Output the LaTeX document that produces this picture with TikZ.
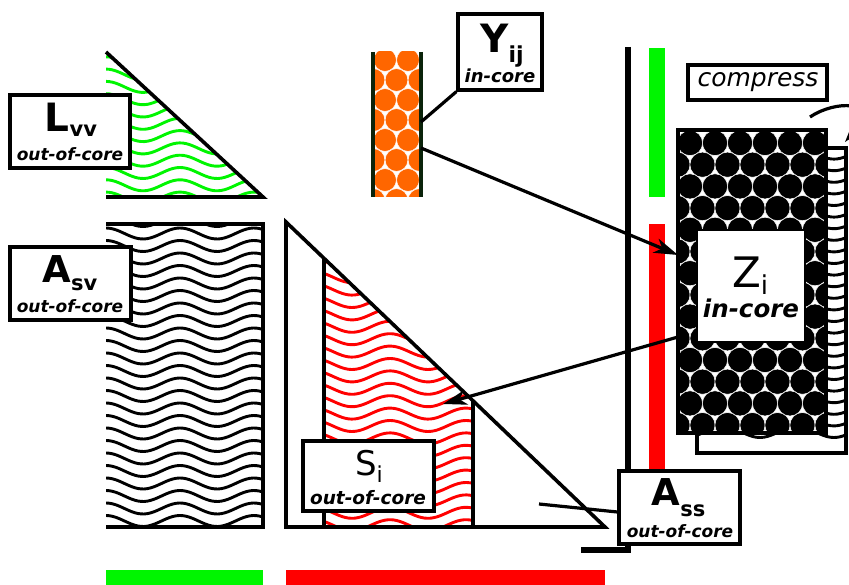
\documentclass[tikz,border=0pt]{standalone}
\usepackage{fontspec}
\setmainfont{DejaVu Sans}
\usetikzlibrary{arrows.meta}
\newcommand\myfs[1]{\fontsize{#1pt}{#1pt}\selectfont}
\definecolor{mygreen}{RGB}{0,245,0}
\definecolor{myred}{RGB}{255,0,0}
\definecolor{myorange}{RGB}{255,102,0}
\definecolor{colborder}{RGB}{10,35,10}
\begin{document}
\begin{tikzpicture}[x=1pt,y=-1pt, line join=miter,
  edge/.style={line width=3.6pt},
  lbox/.style={draw, line width=3.2pt, fill=white, inner sep=0pt},
  txt/.style={inner sep=0pt, anchor=base},
  wave/.style={line width=2.9pt},
  conn/.style={line width=3.2pt},
  arr/.style={conn, -{Stealth[length=24pt,width=15pt,inset=7pt]}},
]
\useasboundingbox (0,0) rectangle (849,585);

% bars and vertical line
\fill[mygreen] (106,570) rectangle (263,585);
\fill[myred] (286,570) rectangle (605,585);
\fill[mygreen] (649,48) rectangle (665,197);
\fill[myred] (649,224) rectangle (665,527);
\draw[line width=5.5pt] (628,47) -- (628,550) -- (581,550);

% L_vv triangle
\begin{scope}
\clip (106,52) -- (263,197) -- (106,197) -- cycle;
\foreach \k in {0,...,12}
  \draw[wave, mygreen] plot[domain=106:263, samples=50] (\x, {50+\k*12.3 + 5.5*cos(4.865*(\x-143))});
\end{scope}
\draw[edge] (106,52) -- (263,197) -- (106,197);

% A_sv rectangle
\begin{scope}
\clip (106,224) rectangle (263,527);
\foreach \k in {0,...,25}
  \draw[wave] plot[domain=106:263, samples=50] (\x, {221+\k*12.5 + 5.5*cos(4.865*(\x-143))});
\end{scope}
\draw[edge] (106,224) -- (263,224) -- (263,527) -- (106,527);

% S_i region inside A_ss
\begin{scope}
\clip (324,258.3) -- (473,400.8) -- (473,527) -- (324,527) -- cycle;
\foreach \k in {0,...,23}
  \draw[wave, myred] plot[domain=324:473, samples=50] (\x, {240+\k*12.4 + 5.5*cos(4.737*(\x-352))});
\end{scope}
\draw[edge] (324,258.3) -- (324,527);
\draw[edge] (473,400.8) -- (473,527);
% A_ss triangle
\draw[edge] (286,222) -- (605,527) -- (286,527) -- cycle;

% Y_ij column
\begin{scope}
\clip (373,52) rectangle (421,197);
\fill[white] (373,52) rectangle (421,197);
\foreach \r in {0,...,7}
  \foreach \c in {-1,...,2}
    \filldraw[fill=myorange, draw=white, line width=0.5pt]
      ({385+\c*23-mod(\r,2)*11.5}, {60+\r*20}) circle[radius=11.4pt];
\end{scope}
\draw[colborder, line width=4pt] (373,52) -- (373,197) (421,52) -- (421,197);

% back wavy stack behind Z
\fill[white] (697,148) rectangle (846,453);
\begin{scope}
\clip (697,148) rectangle (846,453);
\foreach \k in {0,...,25}
  \draw[wave] plot[domain=697:846, samples=50] (\x, {142+\k*11.6 + 5.5*cos(4.865*(\x-760))});
\end{scope}
\draw[edge] (697,148) rectangle (846,453);

% Z block
\begin{scope}
\clip (678,130) rectangle (826,433);
\fill[white] (678,130) rectangle (826,433);
\foreach \r in {0,...,14}
  \foreach \c in {-1,...,6}
    \filldraw[fill=black, draw=white, line width=0.5pt]
      ({690+\c*25-mod(\r,2)*12.5}, {143+\r*21.7}) circle[radius=12.6pt];
\end{scope}
\draw[edge] (678,130) rectangle (826,433);

% connectors
\node[lbox, minimum width=84pt, minimum height=76pt] (yij) at (500,52) {};
\coordinate (ytop) at (421,122);
\draw[conn] (yij.south west) -- (ytop);
\coordinate (yout) at (421,148);
\coordinate (zin) at (678,255);
\draw[arr] (yout) -- (zin);
\coordinate (zout) at (678,337);
\coordinate (sin) at (443,404);
\draw[arr] (zout) -- (sin);

% labels
\node[lbox, minimum width=120pt, minimum height=73pt] (lvv) at (70,131.5) {};
\node[txt] (lvvA) at (71,132) {\bfseries\myfs{39}L\raisebox{-5pt}{\myfs{21}vv}};
\node[txt] (lvvB) at (70,161) {\bfseries\itshape\myfs{17}out-of-core};

\node[lbox, minimum width=121pt, minimum height=73pt] (asv) at (70.5,283.5) {};
\node[txt] (asvA) at (70,283) {\bfseries\myfs{37}A\raisebox{-8pt}{\myfs{21}sv}};
\node[txt] (asvB) at (70,313) {\bfseries\itshape\myfs{17}out-of-core};

\node[txt] (yijA) at (502,53) {\bfseries\myfs{39}Y\raisebox{-10pt}{\myfs{22}ij}};
\node[txt] (yijB) at (500,83) {\bfseries\itshape\myfs{18}in-core};

\node[draw, line width=1.5pt, fill=white, inner sep=0pt, minimum width=108pt, minimum height=112pt] (zi) at (751,286) {};
\node[txt] (ziA) at (750,288) {\myfs{42}Z\raisebox{-7pt}{\myfs{26}i}};
\node[txt] (ziB) at (751,318) {\bfseries\itshape\myfs{24.5}in-core};

\node[lbox, minimum width=131pt, minimum height=70pt] (si) at (368.5,476) {};
\node[txt] (siA) at (369,475) {\myfs{34}S\raisebox{-7pt}{\myfs{22}i}};
\node[txt] (siB) at (368,504) {\bfseries\itshape\myfs{18.5}out-of-core};

\coordinate (assin) at (539,504);
\node[lbox, minimum width=121pt, minimum height=73pt] (ass) at (679.5,507.5) {};
\draw[conn] ([yshift=-4.5pt]ass.west) -- (assin);
\node[txt] (assA) at (678.5,505) {\bfseries\myfs{37}A\raisebox{-11pt}{\myfs{21}ss}};
\node[txt] (assB) at (680,537) {\bfseries\itshape\myfs{17}out-of-core};

\node[lbox, minimum width=139pt, minimum height=35pt] (comp) at (757.5,82.5) {};
\node[txt] (compT) at (758,87) {\itshape\myfs{25}compress};
\coordinate (cstart) at (810,117);
\coordinate (cend) at (845,142);
\draw[conn, -{Stealth[length=22pt,width=14pt,inset=6pt]}] (cstart) .. controls (835,100) and (880,100) .. (cend);
\end{tikzpicture}
\end{document}
